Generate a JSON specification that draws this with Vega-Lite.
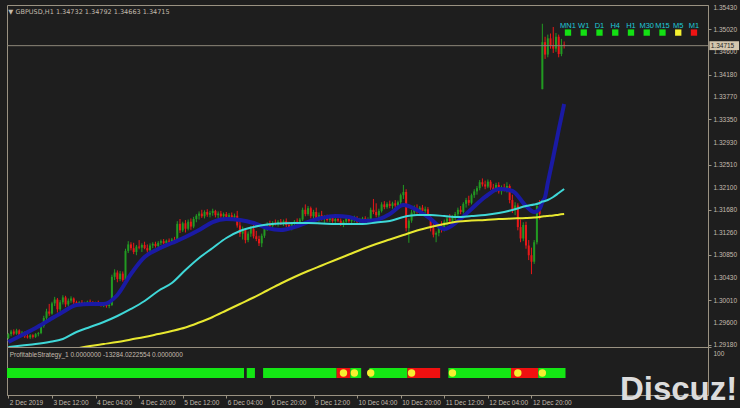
{
"$schema": "https://vega.github.io/schema/vega-lite/v6.json",
"background": "#1e1e1e",
"padding": {"left": 6, "top": 3, "right": 0, "bottom": 0},
"spacing": 0,
"bounds": "flush",
"config": {
  "view": {"stroke": "#9a9282", "strokeWidth": 1},
  "axis": {"labelFont": "Liberation Sans", "labelFontSize": 6.5, "labelColor": "#c4bcae", "domainColor": "#9a9282", "tickColor": "#9a9282", "grid": false, "title": null, "labelOverlap": false, "labelSeparation": 0},
  "text": {"font": "Liberation Sans"}
},
"datasets": {
"candles": [
{"i":0,"o":1.2931,"h":1.2940,"l":1.2929,"c":1.2938},
{"i":1,"o":1.2938,"h":1.2946,"l":1.2934,"c":1.2943},
{"i":2,"o":1.2943,"h":1.2947,"l":1.2936,"c":1.2939},
{"i":3,"o":1.2939,"h":1.2948,"l":1.2937,"c":1.2945},
{"i":4,"o":1.2945,"h":1.2947,"l":1.2933,"c":1.2936},
{"i":5,"o":1.2936,"h":1.2944,"l":1.2933,"c":1.2941},
{"i":6,"o":1.2941,"h":1.2943,"l":1.2931,"c":1.2934},
{"i":7,"o":1.2934,"h":1.2939,"l":1.2930,"c":1.2932},
{"i":8,"o":1.2932,"h":1.2938,"l":1.2929,"c":1.2936},
{"i":9,"o":1.2936,"h":1.2938,"l":1.2930,"c":1.2933},
{"i":10,"o":1.2933,"h":1.2940,"l":1.2931,"c":1.2938},
{"i":11,"o":1.2938,"h":1.2942,"l":1.2934,"c":1.2940},
{"i":12,"o":1.2940,"h":1.2956,"l":1.2938,"c":1.2953},
{"i":13,"o":1.2953,"h":1.2972,"l":1.2950,"c":1.2968},
{"i":14,"o":1.2968,"h":1.2985,"l":1.2962,"c":1.2980},
{"i":15,"o":1.2980,"h":1.2994,"l":1.2972,"c":1.2976},
{"i":16,"o":1.2976,"h":1.2998,"l":1.2974,"c":1.2995},
{"i":17,"o":1.2995,"h":1.3007,"l":1.2990,"c":1.3002},
{"i":18,"o":1.3002,"h":1.3005,"l":1.2978,"c":1.2984},
{"i":19,"o":1.2984,"h":1.3001,"l":1.2980,"c":1.2997},
{"i":20,"o":1.2997,"h":1.3010,"l":1.2993,"c":1.3006},
{"i":21,"o":1.3006,"h":1.3009,"l":1.2988,"c":1.2993},
{"i":22,"o":1.2993,"h":1.3004,"l":1.2989,"c":1.3000},
{"i":23,"o":1.3000,"h":1.3008,"l":1.2996,"c":1.3004},
{"i":24,"o":1.3004,"h":1.3006,"l":1.2993,"c":1.2997},
{"i":25,"o":1.2997,"h":1.3000,"l":1.2992,"c":1.2995},
{"i":26,"o":1.2995,"h":1.2999,"l":1.2991,"c":1.2997},
{"i":27,"o":1.2997,"h":1.3001,"l":1.2993,"c":1.2994},
{"i":28,"o":1.2994,"h":1.2998,"l":1.2990,"c":1.2996},
{"i":29,"o":1.2996,"h":1.3000,"l":1.2993,"c":1.2998},
{"i":30,"o":1.2998,"h":1.3002,"l":1.2994,"c":1.2995},
{"i":31,"o":1.2995,"h":1.2999,"l":1.2991,"c":1.2993},
{"i":32,"o":1.2993,"h":1.2998,"l":1.2990,"c":1.2996},
{"i":33,"o":1.2996,"h":1.3000,"l":1.2992,"c":1.2994},
{"i":34,"o":1.2994,"h":1.2997,"l":1.2989,"c":1.2991},
{"i":35,"o":1.2991,"h":1.2996,"l":1.2988,"c":1.2993},
{"i":36,"o":1.2993,"h":1.2997,"l":1.2987,"c":1.2990},
{"i":37,"o":1.2990,"h":1.2995,"l":1.2986,"c":1.2992},
{"i":38,"o":1.2992,"h":1.3048,"l":1.2990,"c":1.3044},
{"i":39,"o":1.3044,"h":1.3058,"l":1.3038,"c":1.3052},
{"i":40,"o":1.3052,"h":1.3056,"l":1.3034,"c":1.3040},
{"i":41,"o":1.3040,"h":1.3055,"l":1.3036,"c":1.3050},
{"i":42,"o":1.3050,"h":1.3054,"l":1.3035,"c":1.3038},
{"i":43,"o":1.3038,"h":1.3096,"l":1.3036,"c":1.3092},
{"i":44,"o":1.3092,"h":1.3110,"l":1.3088,"c":1.3104},
{"i":45,"o":1.3104,"h":1.3108,"l":1.3093,"c":1.3097},
{"i":46,"o":1.3097,"h":1.3107,"l":1.3086,"c":1.3090},
{"i":47,"o":1.3090,"h":1.3103,"l":1.3084,"c":1.3100},
{"i":48,"o":1.3100,"h":1.3112,"l":1.3095,"c":1.3098},
{"i":49,"o":1.3098,"h":1.3106,"l":1.3090,"c":1.3103},
{"i":50,"o":1.3103,"h":1.3109,"l":1.3095,"c":1.3097},
{"i":51,"o":1.3097,"h":1.3104,"l":1.3089,"c":1.3093},
{"i":52,"o":1.3093,"h":1.3106,"l":1.3090,"c":1.3102},
{"i":53,"o":1.3102,"h":1.3108,"l":1.3097,"c":1.3105},
{"i":54,"o":1.3105,"h":1.3109,"l":1.3098,"c":1.3101},
{"i":55,"o":1.3101,"h":1.3110,"l":1.3099,"c":1.3107},
{"i":56,"o":1.3107,"h":1.3113,"l":1.3103,"c":1.3110},
{"i":57,"o":1.3110,"h":1.3114,"l":1.3104,"c":1.3106},
{"i":58,"o":1.3106,"h":1.3113,"l":1.3103,"c":1.3111},
{"i":59,"o":1.3111,"h":1.3115,"l":1.3106,"c":1.3109},
{"i":60,"o":1.3109,"h":1.3116,"l":1.3105,"c":1.3113},
{"i":61,"o":1.3113,"h":1.3118,"l":1.3107,"c":1.3110},
{"i":62,"o":1.3110,"h":1.3147,"l":1.3108,"c":1.3142},
{"i":63,"o":1.3142,"h":1.3151,"l":1.3125,"c":1.3130},
{"i":64,"o":1.3130,"h":1.3146,"l":1.3127,"c":1.3143},
{"i":65,"o":1.3143,"h":1.3149,"l":1.3126,"c":1.3133},
{"i":66,"o":1.3133,"h":1.3150,"l":1.3130,"c":1.3146},
{"i":67,"o":1.3146,"h":1.3152,"l":1.3131,"c":1.3137},
{"i":68,"o":1.3137,"h":1.3155,"l":1.3134,"c":1.3151},
{"i":69,"o":1.3151,"h":1.3160,"l":1.3145,"c":1.3157},
{"i":70,"o":1.3157,"h":1.3165,"l":1.3150,"c":1.3161},
{"i":71,"o":1.3161,"h":1.3168,"l":1.3153,"c":1.3156},
{"i":72,"o":1.3156,"h":1.3167,"l":1.3152,"c":1.3164},
{"i":73,"o":1.3164,"h":1.3169,"l":1.3155,"c":1.3159},
{"i":74,"o":1.3159,"h":1.3166,"l":1.3154,"c":1.3162},
{"i":75,"o":1.3162,"h":1.3170,"l":1.3157,"c":1.3166},
{"i":76,"o":1.3166,"h":1.3168,"l":1.3154,"c":1.3158},
{"i":77,"o":1.3158,"h":1.3165,"l":1.3152,"c":1.3161},
{"i":78,"o":1.3161,"h":1.3166,"l":1.3153,"c":1.3156},
{"i":79,"o":1.3156,"h":1.3163,"l":1.3151,"c":1.3160},
{"i":80,"o":1.3160,"h":1.3164,"l":1.3152,"c":1.3155},
{"i":81,"o":1.3155,"h":1.3162,"l":1.3150,"c":1.3158},
{"i":82,"o":1.3158,"h":1.3163,"l":1.3151,"c":1.3154},
{"i":83,"o":1.3154,"h":1.3161,"l":1.3149,"c":1.3157},
{"i":84,"o":1.3157,"h":1.3166,"l":1.3135,"c":1.3139},
{"i":85,"o":1.3139,"h":1.3150,"l":1.3118,"c":1.3124},
{"i":86,"o":1.3124,"h":1.3137,"l":1.3113,"c":1.3131},
{"i":87,"o":1.3131,"h":1.3134,"l":1.3106,"c":1.3112},
{"i":88,"o":1.3112,"h":1.3128,"l":1.3108,"c":1.3124},
{"i":89,"o":1.3124,"h":1.3138,"l":1.3118,"c":1.3133},
{"i":90,"o":1.3133,"h":1.3140,"l":1.3115,"c":1.3119},
{"i":91,"o":1.3119,"h":1.3129,"l":1.3110,"c":1.3114},
{"i":92,"o":1.3114,"h":1.3120,"l":1.3101,"c":1.3106},
{"i":93,"o":1.3106,"h":1.3124,"l":1.3099,"c":1.3120},
{"i":94,"o":1.3120,"h":1.3136,"l":1.3116,"c":1.3133},
{"i":95,"o":1.3133,"h":1.3145,"l":1.3129,"c":1.3141},
{"i":96,"o":1.3141,"h":1.3148,"l":1.3135,"c":1.3138},
{"i":97,"o":1.3138,"h":1.3147,"l":1.3134,"c":1.3144},
{"i":98,"o":1.3144,"h":1.3150,"l":1.3139,"c":1.3142},
{"i":99,"o":1.3142,"h":1.3149,"l":1.3137,"c":1.3146},
{"i":100,"o":1.3146,"h":1.3151,"l":1.3140,"c":1.3143},
{"i":101,"o":1.3143,"h":1.3150,"l":1.3138,"c":1.3147},
{"i":102,"o":1.3147,"h":1.3152,"l":1.3136,"c":1.3140},
{"i":103,"o":1.3140,"h":1.3146,"l":1.3132,"c":1.3136},
{"i":104,"o":1.3136,"h":1.3145,"l":1.3130,"c":1.3142},
{"i":105,"o":1.3142,"h":1.3149,"l":1.3138,"c":1.3146},
{"i":106,"o":1.3146,"h":1.3152,"l":1.3140,"c":1.3143},
{"i":107,"o":1.3143,"h":1.3153,"l":1.3141,"c":1.3150},
{"i":108,"o":1.3150,"h":1.3172,"l":1.3147,"c":1.3168},
{"i":109,"o":1.3168,"h":1.3178,"l":1.3156,"c":1.3160},
{"i":110,"o":1.3160,"h":1.3175,"l":1.3157,"c":1.3171},
{"i":111,"o":1.3171,"h":1.3174,"l":1.3152,"c":1.3156},
{"i":112,"o":1.3156,"h":1.3168,"l":1.3150,"c":1.3164},
{"i":113,"o":1.3164,"h":1.3172,"l":1.3149,"c":1.3153},
{"i":114,"o":1.3153,"h":1.3163,"l":1.3146,"c":1.3158},
{"i":115,"o":1.3158,"h":1.3166,"l":1.3148,"c":1.3151},
{"i":116,"o":1.3151,"h":1.3158,"l":1.3144,"c":1.3154},
{"i":117,"o":1.3154,"h":1.3159,"l":1.3146,"c":1.3149},
{"i":118,"o":1.3149,"h":1.3157,"l":1.3145,"c":1.3153},
{"i":119,"o":1.3153,"h":1.3158,"l":1.3144,"c":1.3147},
{"i":120,"o":1.3147,"h":1.3155,"l":1.3143,"c":1.3151},
{"i":121,"o":1.3151,"h":1.3157,"l":1.3145,"c":1.3148},
{"i":122,"o":1.3148,"h":1.3152,"l":1.3138,"c":1.3141},
{"i":123,"o":1.3141,"h":1.3149,"l":1.3136,"c":1.3146},
{"i":124,"o":1.3146,"h":1.3155,"l":1.3143,"c":1.3152},
{"i":125,"o":1.3152,"h":1.3156,"l":1.3144,"c":1.3147},
{"i":126,"o":1.3147,"h":1.3154,"l":1.3142,"c":1.3150},
{"i":127,"o":1.3150,"h":1.3157,"l":1.3145,"c":1.3153},
{"i":128,"o":1.3153,"h":1.3156,"l":1.3143,"c":1.3146},
{"i":129,"o":1.3146,"h":1.3153,"l":1.3141,"c":1.3149},
{"i":130,"o":1.3149,"h":1.3155,"l":1.3144,"c":1.3152},
{"i":131,"o":1.3152,"h":1.3156,"l":1.3142,"c":1.3145},
{"i":132,"o":1.3145,"h":1.3154,"l":1.3143,"c":1.3151},
{"i":133,"o":1.3151,"h":1.3172,"l":1.3149,"c":1.3168},
{"i":134,"o":1.3168,"h":1.3188,"l":1.3160,"c":1.3164},
{"i":135,"o":1.3164,"h":1.3180,"l":1.3154,"c":1.3158},
{"i":136,"o":1.3158,"h":1.3170,"l":1.3152,"c":1.3166},
{"i":137,"o":1.3166,"h":1.3182,"l":1.3163,"c":1.3178},
{"i":138,"o":1.3178,"h":1.3184,"l":1.3169,"c":1.3173},
{"i":139,"o":1.3173,"h":1.3182,"l":1.3170,"c":1.3179},
{"i":140,"o":1.3179,"h":1.3185,"l":1.3171,"c":1.3175},
{"i":141,"o":1.3175,"h":1.3183,"l":1.3170,"c":1.3180},
{"i":142,"o":1.3180,"h":1.3186,"l":1.3172,"c":1.3176},
{"i":143,"o":1.3176,"h":1.3185,"l":1.3172,"c":1.3182},
{"i":144,"o":1.3182,"h":1.3198,"l":1.3178,"c":1.3195},
{"i":145,"o":1.3195,"h":1.3214,"l":1.3188,"c":1.3201},
{"i":146,"o":1.3201,"h":1.3206,"l":1.3128,"c":1.3134},
{"i":147,"o":1.3134,"h":1.3152,"l":1.3107,"c":1.3148},
{"i":148,"o":1.3148,"h":1.3168,"l":1.3144,"c":1.3163},
{"i":149,"o":1.3163,"h":1.3176,"l":1.3158,"c":1.3170},
{"i":150,"o":1.3170,"h":1.3178,"l":1.3161,"c":1.3165},
{"i":151,"o":1.3165,"h":1.3175,"l":1.3160,"c":1.3172},
{"i":152,"o":1.3172,"h":1.3177,"l":1.3162,"c":1.3166},
{"i":153,"o":1.3166,"h":1.3174,"l":1.3159,"c":1.3169},
{"i":154,"o":1.3169,"h":1.3173,"l":1.3151,"c":1.3155},
{"i":155,"o":1.3155,"h":1.3159,"l":1.3128,"c":1.3134},
{"i":156,"o":1.3134,"h":1.3145,"l":1.3117,"c":1.3122},
{"i":157,"o":1.3122,"h":1.3128,"l":1.3108,"c":1.3125},
{"i":158,"o":1.3125,"h":1.3142,"l":1.3119,"c":1.3138},
{"i":159,"o":1.3138,"h":1.3147,"l":1.3126,"c":1.3131},
{"i":160,"o":1.3131,"h":1.3150,"l":1.3128,"c":1.3146},
{"i":161,"o":1.3146,"h":1.3157,"l":1.3139,"c":1.3152},
{"i":162,"o":1.3152,"h":1.3160,"l":1.3143,"c":1.3147},
{"i":163,"o":1.3147,"h":1.3158,"l":1.3141,"c":1.3155},
{"i":164,"o":1.3155,"h":1.3164,"l":1.3149,"c":1.3160},
{"i":165,"o":1.3160,"h":1.3172,"l":1.3155,"c":1.3168},
{"i":166,"o":1.3168,"h":1.3175,"l":1.3160,"c":1.3164},
{"i":167,"o":1.3164,"h":1.3182,"l":1.3161,"c":1.3179},
{"i":168,"o":1.3179,"h":1.3190,"l":1.3172,"c":1.3186},
{"i":169,"o":1.3186,"h":1.3194,"l":1.3176,"c":1.3181},
{"i":170,"o":1.3181,"h":1.3198,"l":1.3178,"c":1.3195},
{"i":171,"o":1.3195,"h":1.3206,"l":1.3190,"c":1.3202},
{"i":172,"o":1.3202,"h":1.3212,"l":1.3196,"c":1.3208},
{"i":173,"o":1.3208,"h":1.3223,"l":1.3204,"c":1.3219},
{"i":174,"o":1.3219,"h":1.3226,"l":1.3211,"c":1.3215},
{"i":175,"o":1.3215,"h":1.3222,"l":1.3206,"c":1.3211},
{"i":176,"o":1.3211,"h":1.3224,"l":1.3208,"c":1.3220},
{"i":177,"o":1.3220,"h":1.3223,"l":1.3205,"c":1.3209},
{"i":178,"o":1.3209,"h":1.3216,"l":1.3200,"c":1.3204},
{"i":179,"o":1.3204,"h":1.3218,"l":1.3201,"c":1.3214},
{"i":180,"o":1.3214,"h":1.3219,"l":1.3198,"c":1.3202},
{"i":181,"o":1.3202,"h":1.3213,"l":1.3196,"c":1.3209},
{"i":182,"o":1.3209,"h":1.3216,"l":1.3202,"c":1.3205},
{"i":183,"o":1.3205,"h":1.3219,"l":1.3200,"c":1.3212},
{"i":184,"o":1.3212,"h":1.3215,"l":1.3180,"c":1.3186},
{"i":185,"o":1.3186,"h":1.3196,"l":1.3162,"c":1.3168},
{"i":186,"o":1.3168,"h":1.3182,"l":1.3158,"c":1.3176},
{"i":187,"o":1.3176,"h":1.3180,"l":1.3130,"c":1.3136},
{"i":188,"o":1.3136,"h":1.3150,"l":1.3108,"c":1.3115},
{"i":189,"o":1.3115,"h":1.3145,"l":1.3110,"c":1.3140},
{"i":190,"o":1.3140,"h":1.3146,"l":1.3096,"c":1.3102},
{"i":191,"o":1.3102,"h":1.3112,"l":1.3075,"c":1.3084},
{"i":192,"o":1.3084,"h":1.3098,"l":1.3049,"c":1.3072},
{"i":193,"o":1.3072,"h":1.3112,"l":1.3068,"c":1.3108},
{"i":194,"o":1.3108,"h":1.3180,"l":1.3104,"c":1.3175},
{"i":195,"o":1.3175,"h":1.3186,"l":1.3150,"c":1.3160},
{"i":196,"o":1.3391,"h":1.3512,"l":1.3391,"c":1.3478},
{"i":197,"o":1.3478,"h":1.3488,"l":1.3447,"c":1.3455},
{"i":198,"o":1.3455,"h":1.3492,"l":1.3450,"c":1.3485},
{"i":199,"o":1.3485,"h":1.3494,"l":1.3466,"c":1.3472},
{"i":200,"o":1.3472,"h":1.3506,"l":1.3458,"c":1.3466},
{"i":201,"o":1.3466,"h":1.3495,"l":1.3460,"c":1.3488},
{"i":202,"o":1.3488,"h":1.3492,"l":1.3450,"c":1.3456},
{"i":203,"o":1.3456,"h":1.3484,"l":1.3452,"c":1.3473},
{"i":204,"o":1.34732,"h":1.34792,"l":1.34663,"c":1.34715}
],
"ma": [
{"i":0,"blue":1.29235,"cyan":1.29143},
{"i":5,"blue":1.29365,"cyan":1.29171},
{"i":10,"blue":1.29494,"cyan":1.29198},
{"i":15,"blue":1.29642,"cyan":1.29235},
{"i":20,"blue":1.2979,"cyan":1.29291},
{"i":25,"blue":1.2992,"cyan":1.2942,"yellow":1.29115},
{"i":30,"blue":1.29938,"cyan":1.29513,"yellow":1.29161},
{"i":35,"blue":1.29938,"cyan":1.29605,"yellow":1.29198},
{"i":40,"blue":1.30105,"cyan":1.29716,"yellow":1.29235},
{"i":45,"blue":1.30493,"cyan":1.29846,"yellow":1.29282},
{"i":50,"blue":1.30807,"cyan":1.29994,"yellow":1.29328},
{"i":55,"blue":1.30955,"cyan":1.30179,"yellow":1.29383},
{"i":60,"blue":1.31066,"cyan":1.30326,"yellow":1.29439},
{"i":65,"blue":1.31177,"cyan":1.30567,"yellow":1.29504},
{"i":70,"blue":1.31306,"cyan":1.30789,"yellow":1.29596},
{"i":75,"blue":1.31454,"cyan":1.30974,"yellow":1.29698},
{"i":80,"blue":1.3151,"cyan":1.31159,"yellow":1.29818},
{"i":85,"blue":1.31491,"cyan":1.31288,"yellow":1.29938},
{"i":90,"blue":1.31436,"cyan":1.31362,"yellow":1.30058},
{"i":95,"blue":1.31343,"cyan":1.31408,"yellow":1.30188},
{"i":100,"blue":1.31306,"cyan":1.31427,"yellow":1.30317},
{"i":105,"blue":1.31362,"cyan":1.31436,"yellow":1.30437},
{"i":110,"blue":1.31454,"cyan":1.31436,"yellow":1.30548},
{"i":115,"blue":1.31528,"cyan":1.31427,"yellow":1.3065},
{"i":120,"blue":1.31565,"cyan":1.31417,"yellow":1.30752},
{"i":125,"blue":1.31547,"cyan":1.31417,"yellow":1.30853},
{"i":130,"blue":1.31473,"cyan":1.31417,"yellow":1.30955},
{"i":135,"blue":1.31491,"cyan":1.31445,"yellow":1.31048},
{"i":140,"blue":1.31602,"cyan":1.31473,"yellow":1.31131},
{"i":145,"blue":1.31769,"cyan":1.31547,"yellow":1.31214},
{"i":150,"blue":1.31676,"cyan":1.31583,"yellow":1.31297},
{"i":155,"blue":1.3151,"cyan":1.31583,"yellow":1.31362},
{"i":160,"blue":1.31325,"cyan":1.31565,"yellow":1.31417},
{"i":165,"blue":1.31473,"cyan":1.31547,"yellow":1.31464},
{"i":170,"blue":1.31695,"cyan":1.31565,"yellow":1.31482},
{"i":175,"blue":1.31917,"cyan":1.31583,"yellow":1.31491},
{"i":180,"blue":1.32065,"cyan":1.31619,"yellow":1.3151},
{"i":185,"blue":1.32028,"cyan":1.31676,"yellow":1.31519},
{"i":190,"blue":1.3175,"cyan":1.3175,"yellow":1.31528},
{"i":193,"blue":1.31639,"cyan":1.31778,"yellow":1.31537},
{"i":195,"blue":1.31695,"cyan":1.31806,"yellow":1.31547},
{"i":196,"blue":1.31824,"cyan":1.31833,"yellow":1.31556},
{"i":197,"blue":1.31917,"cyan":1.31843,"yellow":1.3156},
{"i":198,"blue":1.32176,"cyan":1.31861,"yellow":1.31565},
{"i":200,"blue":1.32656,"cyan":1.31917,"yellow":1.31575},
{"i":202,"blue":1.33156,"cyan":1.31991,"yellow":1.3159},
{"i":204,"blue":1.33636,"cyan":1.32065,"yellow":1.31602}
],
"signal": [
{"start":-0.5,"end":86.5,"state":"buy"},
{"start":87.5,"end":90.5,"state":"buy"},
{"start":93.5,"end":120.5,"state":"buy"},
{"start":120.5,"end":125.5,"state":"sell"},
{"start":125.5,"end":129.5,"state":"buy"},
{"start":132.5,"end":146.5,"state":"buy"},
{"start":146.5,"end":158.5,"state":"sell"},
{"start":161.5,"end":184.5,"state":"buy"},
{"start":184.5,"end":194.5,"state":"sell"},
{"start":194.5,"end":204.5,"state":"buy"}
],
"dots": [{"i":123},{"i":127},{"i":133},{"i":148},{"i":163},{"i":187},{"i":196}],
"tf": [
{"slot":0,"tf":"MN1","status":"buy"},
{"slot":1,"tf":"W1","status":"buy"},
{"slot":2,"tf":"D1","status":"buy"},
{"slot":3,"tf":"H4","status":"buy"},
{"slot":4,"tf":"H1","status":"buy"},
{"slot":5,"tf":"M30","status":"buy"},
{"slot":6,"tf":"M15","status":"buy"},
{"slot":7,"tf":"M5","status":"wait"},
{"slot":8,"tf":"M1","status":"sell"}
],
"bid": [{"symbol":"GBPUSD,H1","o":1.34732,"h":1.34792,"l":1.34663,"c":1.34715}]
},
"vconcat": [
{
  "width": 701,
  "height": 342,
  "layer": [
    {
      "layer": [
        {
          "data": {"name": "candles"},
          "mark": {"type": "rule", "strokeWidth": 1},
          "encoding": {
            "x": {"field": "i", "type": "quantitative", "scale": {"domain": [-0.5, 256.8], "nice": false, "zero": false}, "axis": null},
            "y": {"field": "l", "type": "quantitative", "scale": {"domain": [1.29143, 1.35467], "nice": false, "zero": false},
                  "axis": {"orient": "right", "values": [1.2918,1.296,1.3001,1.3043,1.3085,1.3126,1.3168,1.321,1.3251,1.3293,1.3335,1.3377,1.3418,1.346,1.3502,1.3543], "tickCount": 40, "format": ".5f", "tickSize": 3, "labelPadding": 2, "labelOverlap": false, "labelSeparation": 0, "title": null,
                           "tickOpacity": {"condition": {"test": "indexof([1.2918,1.3001,1.3085,1.3168,1.3251,1.3335,1.3418,1.3502], datum.value) >= 0", "value": 1}, "value": 0}}},
            "y2": {"field": "h"},
            "color": {"condition": {"test": "datum.c >= datum.o", "value": "#229a22"}, "value": "#e81818"}
          }
        },
        {
          "data": {"name": "candles"},
          "mark": {"type": "rule", "strokeWidth": 2},
          "encoding": {
            "x": {"field": "i", "type": "quantitative"},
            "y": {"field": "o", "type": "quantitative"},
            "y2": {"field": "c"},
            "color": {"condition": {"test": "datum.c >= datum.o", "value": "#229a22"}, "value": "#e81818"}
          }
        },
        {
          "data": {"name": "ma"},
          "mark": {"type": "line", "color": "#1a1aa4", "strokeWidth": 4, "interpolate": "monotone", "clip": true},
          "encoding": {"x": {"field": "i", "type": "quantitative"}, "y": {"field": "blue", "type": "quantitative"}}
        },
        {
          "data": {"name": "ma"},
          "mark": {"type": "line", "color": "#3fd8d8", "strokeWidth": 2, "interpolate": "monotone", "clip": true},
          "encoding": {"x": {"field": "i", "type": "quantitative"}, "y": {"field": "cyan", "type": "quantitative"}}
        },
        {
          "data": {"name": "ma"},
          "mark": {"type": "line", "color": "#e8e830", "strokeWidth": 2, "interpolate": "monotone", "clip": true},
          "encoding": {"x": {"field": "i", "type": "quantitative"}, "y": {"field": "yellow", "type": "quantitative"}}
        },
        {
          "data": {"name": "bid"},
          "mark": {"type": "rule", "color": "#8e887a", "strokeWidth": 1},
          "encoding": {"y": {"field": "c", "type": "quantitative"}}
        },
        {
          "data": {"name": "bid"},
          "mark": {"type": "rect", "color": "#d4c6ae"},
          "encoding": {
            "x": {"datum": 257.3, "type": "quantitative"},
            "x2": {"datum": 268.2},
            "y": {"datum": 1.34797, "type": "quantitative"},
            "y2": {"datum": 1.34633}
          }
        },
        {
          "data": {"name": "bid"},
          "mark": {"type": "text", "color": "#1e1e1e", "fontSize": 6.5, "align": "left", "baseline": "middle"},
          "encoding": {
            "x": {"datum": 257.8, "type": "quantitative"},
            "y": {"field": "c", "type": "quantitative"},
            "text": {"field": "c", "format": ".5f"}
          }
        },
        {
          "data": {"name": "bid"},
          "mark": {"type": "text", "color": "#c4bcae", "fontSize": 6.5, "align": "left", "baseline": "middle", "font": "DejaVu Sans"},
          "encoding": {
            "x": {"datum": 0, "type": "quantitative"},
            "y": {"datum": 1.35338, "type": "quantitative"},
            "text": {"value": "▼ GBPUSD,H1  1.34732 1.34792 1.34663 1.34715"}
          }
        }
      ]
    },
    {
      "data": {"name": "tf"},
      "layer": [
        {
          "mark": {"type": "text", "color": "#1fc8d8", "fontSize": 7.5, "align": "center", "baseline": "middle"},
          "encoding": {
            "x": {"field": "slot", "type": "quantitative", "scale": {"domain": [-35.62, 8.89], "nice": false, "zero": false}, "axis": null},
            "y": {"datum": 1.35079, "type": "quantitative"},
            "text": {"field": "tf"}
          }
        },
        {
          "mark": {"type": "square", "size": 40, "opacity": 1},
          "encoding": {
            "x": {"field": "slot", "type": "quantitative"},
            "y": {"datum": 1.34957, "type": "quantitative"},
            "color": {"condition": [{"test": "datum.status === 'buy'", "value": "#14e014"}, {"test": "datum.status === 'wait'", "value": "#f4f030"}], "value": "#ee1414"}
          }
        }
      ]
    }
  ],
  "resolve": {"scale": {"x": "independent"}}
},
{
  "width": 701,
  "height": 48,
  "layer": [
    {
      "data": {"name": "signal"},
      "mark": {"type": "rect"},
      "encoding": {
        "x": {"field": "start", "type": "quantitative", "scale": {"domain": [-0.5, 256.8], "nice": false, "zero": false},
              "axis": {"values": [0,16,32,48,64,80,96,112,128,144,160,176,192], "tickCount": 40, "labelExpr": "['2 Dec 2019','3 Dec 12:00','4 Dec 04:00','4 Dec 20:00','5 Dec 12:00','6 Dec 04:00','6 Dec 20:00','9 Dec 12:00','10 Dec 04:00','10 Dec 20:00','11 Dec 12:00','12 Dec 04:00','12 Dec 20:00'][round(datum.value/16)]", "labelAlign": "left", "labelFlush": false, "labelOverlap": false, "labelOffset": 1, "labelPadding": 1, "tickSize": 3, "title": null}},
        "x2": {"field": "end"},
        "y": {"datum": 35.4, "type": "quantitative", "scale": {"domain": [0, 100], "nice": false, "zero": false},
              "axis": {"orient": "right", "values": [100], "labelBaseline": "top", "labelOffset": 3, "tickSize": 3, "labelPadding": 2, "title": null}},
        "y2": {"datum": 56.3},
        "color": {"condition": {"test": "datum.state === 'buy'", "value": "#14e614"}, "value": "#f01010"}
      }
    },
    {
      "data": {"name": "dots"},
      "mark": {"type": "circle", "size": 55, "color": "#f6ee30", "opacity": 1},
      "encoding": {
        "x": {"field": "i", "type": "quantitative"},
        "y": {"datum": 46, "type": "quantitative"}
      }
    },
    {
      "data": {"name": "bid"},
      "mark": {"type": "text", "color": "#c4bcae", "fontSize": 6.5, "align": "left", "baseline": "middle"},
      "encoding": {
        "x": {"datum": 0.5, "type": "quantitative"},
        "y": {"datum": 83, "type": "quantitative"},
        "text": {"value": "ProfitableStrategy_1 0.0000000 -13284.0222554 0.0000000"}
      }
    },
    {
      "data": {"name": "bid"},
      "mark": {"type": "text", "color": "#dcdcdc", "fontSize": 33, "fontWeight": "bold", "align": "center", "baseline": "middle"},
      "encoding": {
        "x": {"datum": 246, "type": "quantitative"},
        "y": {"datum": 10, "type": "quantitative"},
        "text": {"value": "Discuz!"}
      }
    }
  ]
}
]
}
